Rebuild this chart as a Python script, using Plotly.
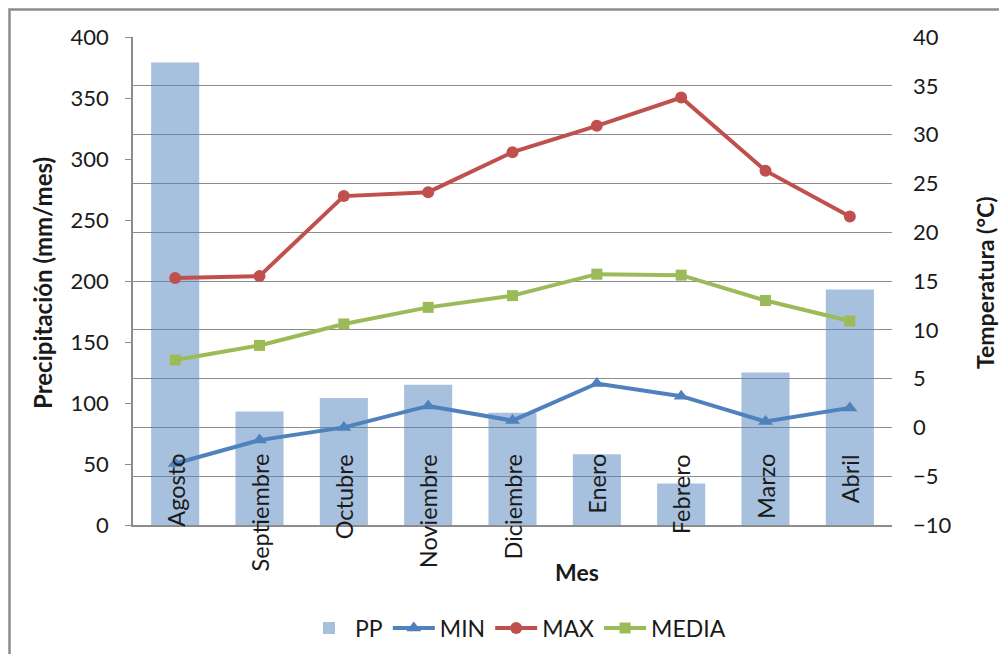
import plotly.graph_objects as go

meses = ["Agosto", "Septiembre", "Octubre", "Noviembre", "Diciembre",
         "Enero", "Febrero", "Marzo", "Abril"]
pp = [379, 93, 104, 115, 92, 58, 34, 125, 193]
t_min = [-3.7, -1.3, 0.0, 2.2, 0.7, 4.5, 3.2, 0.6, 2.0]
t_max = [15.3, 15.5, 23.7, 24.1, 28.2, 30.9, 33.8, 26.3, 21.6]
t_media = [6.9, 8.4, 10.6, 12.3, 13.5, 15.7, 15.6, 13.0, 10.9]

left_ticks = list(range(0, 401, 50))
right_ticks = list(range(-10, 41, 5))

FONT = "Lato"
TXT = "#1a1a1a"
GRID = "#8c8c8c"

# figure / plot area in pixels
W, H = 999, 654
L, T, R, B = 133, 37, 107, 129
PW, PH = W - L - R, H - T - B


def px_x(p):
    return (p - L) / PW


def px_y(p):
    return (H - B - p) / PH


fig = go.Figure()
fig.add_trace(go.Bar(x=meses, y=pp, name="PP", marker=dict(color="rgba(79,129,189,0.5)", line=dict(width=0)),
                     yaxis="y"))
fig.add_trace(go.Scatter(x=meses, y=t_min, name="MIN", mode="lines+markers", yaxis="y2",
                         line=dict(color="#4F81BD", width=4),
                         marker=dict(symbol="triangle-up", size=13, color="#4F81BD")))
fig.add_trace(go.Scatter(x=meses, y=t_max, name="MAX", mode="lines+markers", yaxis="y2",
                         line=dict(color="#C0504D", width=4),
                         marker=dict(symbol="circle", size=12, color="#C0504D")))
fig.add_trace(go.Scatter(x=meses, y=t_media, name="MEDIA", mode="lines+markers", yaxis="y2",
                         line=dict(color="#9BBB59", width=4),
                         marker=dict(symbol="square", size=11, color="#9BBB59")))

annotations = []
for m in meses:
    annotations.append(dict(x=m, xref="x", y=px_y(452), yref="paper", text=m, textangle=-90,
                            showarrow=False, xanchor="center", yanchor="top",
                            font=dict(family=FONT, size=23.5, color=TXT)))
annotations.append(dict(x=px_x(42), xref="paper", y=px_y(283), yref="paper", text="<b>Precipitación (mm/mes)</b>",
                        textangle=-90, showarrow=False, xanchor="center", yanchor="middle",
                        font=dict(family=FONT, size=24, color=TXT)))
annotations.append(dict(x=px_x(985), xref="paper", y=px_y(283), yref="paper", text="<b>Temperatura (°C)</b>",
                        textangle=-90, showarrow=False, xanchor="center", yanchor="middle",
                        font=dict(family=FONT, size=23, color=TXT)))
annotations.append(dict(x=px_x(577), xref="paper", y=px_y(572), yref="paper", text="<b>Mes</b>",
                        showarrow=False, xanchor="center", yanchor="middle",
                        font=dict(family=FONT, size=23, color=TXT)))

fig.update_layout(
    width=W, height=H,
    margin=dict(l=L, r=R, t=T, b=B, autoexpand=False),
    paper_bgcolor="white", plot_bgcolor="white",
    font=dict(family=FONT, size=22, color=TXT),
    bargap=0.43,
    showlegend=True,
    legend=dict(orientation="h", xref="container", yref="container",
                x=517 / W, xanchor="center", y=1 - 628 / H, yanchor="middle",
                itemwidth=42,
                font=dict(family=FONT, size=23, color=TXT), bgcolor="rgba(0,0,0,0)"),
    xaxis=dict(type="category", range=[-0.5, 8.5], showticklabels=False, ticks="",
               showline=True, linecolor=GRID, linewidth=1.5, showgrid=False, zeroline=False),
    yaxis=dict(range=[0, 400], tickvals=left_ticks, ticks="outside", ticklen=6, tickcolor=GRID,
               showline=True, linecolor=GRID, linewidth=1.5, showgrid=False, zeroline=False,
               ticklabelstandoff=12, tickfont=dict(family=FONT, size=22, color=TXT)),
    yaxis2=dict(range=[-10, 40], tickvals=right_ticks, overlaying="y", side="right",
                showgrid=True, gridcolor=GRID, gridwidth=1, ticks="", showline=False, zeroline=False,
                ticklabelstandoff=20, tickfont=dict(family=FONT, size=22, color=TXT)),
    annotations=annotations,
    shapes=[dict(type="rect", xref="paper", yref="paper",
                 x0=px_x(9.5), x1=px_x(W + 20),
                 y0=px_y(H + 20), y1=px_y(9.5),
                 line=dict(color="#8c8c8c", width=2.5), fillcolor="rgba(0,0,0,0)", layer="below")],
)

fig.write_html("out.html",
               config={"displayModeBar": False},
               post_script="document.body.style.margin='0';document.body.style.overflow='hidden';")
